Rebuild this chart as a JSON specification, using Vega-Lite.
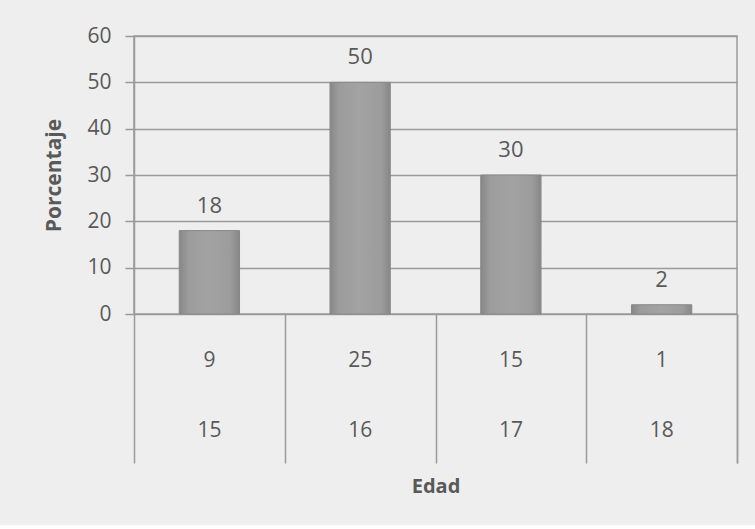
{
  "$schema": "https://vega.github.io/schema/vega-lite/v6.json",
  "background": "#eeeeee",
  "padding": {"left": 43, "top": 24, "right": 17, "bottom": 29},
  "bounds": "flush",
  "spacing": 0,
  "config": {
    "font": "Open Sans",
    "view": {"stroke": null},
    "axis": {"labelFont": "Open Sans", "titleFont": "Open Sans", "labelColor": "#595959", "titleColor": "#595959"}
  },
  "data": {
    "values": [
      {"edad": "15", "porcentaje": 18, "n": 9},
      {"edad": "16", "porcentaje": 50, "n": 25},
      {"edad": "17", "porcentaje": 30, "n": 15},
      {"edad": "18", "porcentaje": 2, "n": 1}
    ]
  },
  "vconcat": [
    {
      "width": 603,
      "height": 278,
      "view": {"stroke": "#9a9a9a", "strokeWidth": 1.5},
      "encoding": {
        "x": {"field": "edad", "type": "nominal", "axis": null,
              "scale": {"paddingInner": 0.6, "paddingOuter": 0.3}},
        "y": {"field": "porcentaje", "type": "quantitative",
              "scale": {"domain": [0, 60], "nice": false},
              "axis": {"title": "Porcentaje", "titleFontSize": 21, "titleFontWeight": "bold", "titlePadding": 22,
                       "values": [0, 10, 20, 30, 40, 50, 60], "labelFontSize": 21, "labelPadding": 14,
                       "tickSize": 9, "tickColor": "#9a9a9a", "tickWidth": 1.5,
                       "domainColor": "#9a9a9a", "domainWidth": 1.5,
                       "gridColor": "#9a9a9a", "gridWidth": 1.5}}
      },
      "layer": [
        {
          "mark": {"type": "bar", "stroke": "#888888", "strokeWidth": 1,
                   "color": {"gradient": "linear", "x1": 0, "y1": 0, "x2": 1, "y2": 0,
                             "stops": [
                               {"offset": 0, "color": "#878787"},
                               {"offset": 0.15, "color": "#9c9c9c"},
                               {"offset": 0.5, "color": "#a3a3a3"},
                               {"offset": 0.85, "color": "#9c9c9c"},
                               {"offset": 1, "color": "#878787"}
                             ]}}
        },
        {
          "mark": {"type": "text", "baseline": "alphabetic", "dy": -18, "fontSize": 22, "color": "#595959"},
          "encoding": {"text": {"field": "porcentaje", "type": "quantitative"}}
        }
      ]
    },
    {
      "width": 603,
      "height": 149,
      "transform": [{"fold": ["n", "edad"], "as": ["fila", "valor"]}],
      "mark": {"type": "text", "fontSize": 21, "color": "#595959", "baseline": "middle"},
      "encoding": {
        "x": {"field": "edad", "type": "nominal",
              "scale": {"paddingInner": 0, "paddingOuter": 0},
              "axis": {"title": "Edad", "titleFontSize": 20, "titleFontWeight": "bold", "titlePadding": 13,
                       "labels": false, "ticks": false, "domain": false,
                       "grid": true, "tickBand": "extent", "gridColor": "#9a9a9a", "gridWidth": 1.5}},
        "y": {"field": "fila", "type": "nominal",
              "scale": {"type": "point", "domain": ["n", "edad"], "padding": 0.564, "align": 0.595},
              "axis": {"orient": "right", "title": null, "labels": false, "ticks": false, "grid": false,
                       "domain": true, "domainColor": "#9a9a9a", "domainWidth": 1.5}},
        "text": {"field": "valor"}
      }
    }
  ]
}
